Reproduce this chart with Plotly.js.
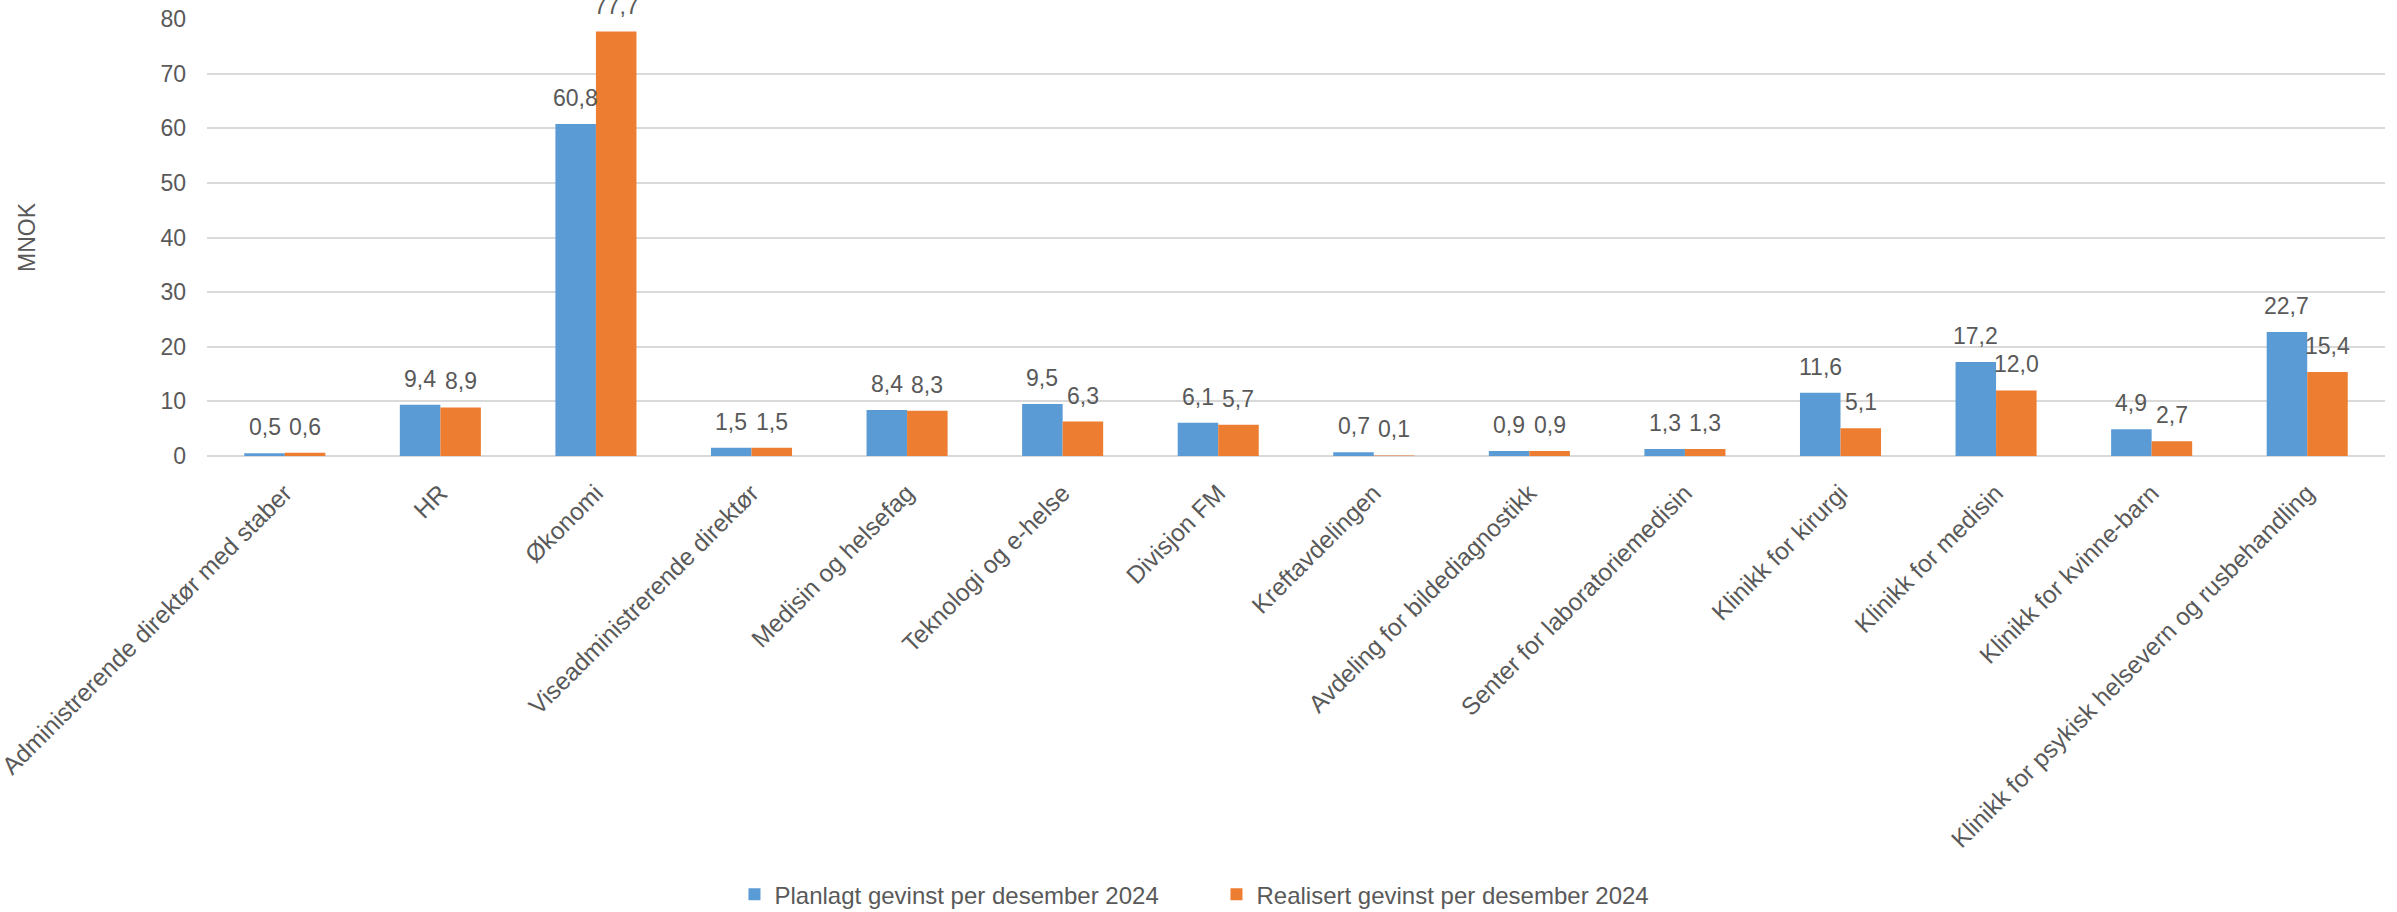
<!DOCTYPE html>
<html>
<head>
<meta charset="utf-8">
<script src="https://cdn.plot.ly/plotly-3.0.1.min.js"></script>
<style>html,body{margin:0;padding:0;background:#fff;}#chart{width:2397px;height:912px;}</style>
</head>
<body>
<div id="chart"></div>
<script>
const categories = [
  "Administrerende direktør med staber",
  "HR",
  "Økonomi",
  "Viseadministrerende direktør",
  "Medisin og helsefag",
  "Teknologi og e-helse",
  "Divisjon FM",
  "Kreftavdelingen",
  "Avdeling for bildediagnostikk",
  "Senter for laboratoriemedisin",
  "Klinikk for kirurgi",
  "Klinikk for medisin",
  "Klinikk for kvinne-barn",
  "Klinikk for psykisk helsevern og rusbehandling"
];
const planlagt = [0.5, 9.4, 60.8, 1.5, 8.4, 9.5, 6.1, 0.7, 0.9, 1.3, 11.6, 17.2, 4.9, 22.7];
const realisert = [0.6, 8.9, 77.7, 1.5, 8.3, 6.3, 5.7, 0.1, 0.9, 1.3, 5.1, 12.0, 2.7, 15.4];
const seriesNames = ["Planlagt gevinst per desember 2024", "Realisert gevinst per desember 2024"];
const yTicks = [0, 10, 20, 30, 40, 50, 60, 70, 80];

const FONT = "'Liberation Sans', Arial, sans-serif";
const W = 2397, H = 912;
const M = {l: 207, r: 12, t: 19, b: 456};
const BARGAP = 0.479;

// pixel offset of each bar's centre inside its group (derived from layout)
const catPx = (W - M.l - M.r) / categories.length;
const barPx = catPx * (1 - BARGAP) / 2;
const fmt = v => v.toFixed(1).replace('.', ',');

const annotations = [];
[planlagt, realisert].forEach((series, si) => {
  series.forEach((v, i) => {
    annotations.push({
      xref: "x", yref: "y", x: categories[i], y: v,
      xshift: (si === 0 ? -1 : 1) * barPx / 2, yshift: 26,
      text: fmt(v), showarrow: false, xanchor: "center", yanchor: "middle",
      font: {family: FONT, size: 23, color: "#595959"}
    });
  });
});

const traces = [
  {type: "bar", name: seriesNames[0], x: categories, y: planlagt, marker: {color: "#5B9BD5"}, hoverinfo: "x+y"},
  {type: "bar", name: seriesNames[1], x: categories, y: realisert, marker: {color: "#ED7D31"}, hoverinfo: "x+y"}
];

const layout = {
  width: W, height: H,
  margin: M,
  paper_bgcolor: "#ffffff", plot_bgcolor: "#ffffff",
  separators: ", ",
  barmode: "group", bargap: BARGAP, bargroupgap: 0,
  font: {family: FONT, color: "#595959", size: 23},
  xaxis: {
    tickangle: -45, tickfont: {family: FONT, size: 24.5, color: "#595959"},
    showgrid: false, showline: false, zeroline: false, ticks: "",
    ticklabelstandoff: 17, automargin: false
  },
  yaxis: {
    range: [0, 80], tickvals: yTicks, ticktext: yTicks.map(String),
    showgrid: true, gridcolor: "#d9d9d9", gridwidth: 2,
    zeroline: true, zerolinecolor: "#d9d9d9", zerolinewidth: 2,
    showline: false, ticks: "", ticklabelstandoff: 20,
    tickfont: {family: FONT, size: 23, color: "#595959"},
    title: {text: "MNOK", font: {family: FONT, size: 23, color: "#595959"}, standoff: 118},
    automargin: false
  },
  annotations: annotations,
  showlegend: true,
  legend: {
    orientation: "h", xref: "container", yref: "container",
    x: 0.5075, xanchor: "center", y: 0.019, yanchor: "middle",
    entrywidth: 437,
    font: {family: FONT, size: 24, color: "#595959"},
    bgcolor: "rgba(0,0,0,0)"
  }
};

Plotly.newPlot("chart", traces, layout, {displayModeBar: false, staticPlot: true});
</script>
</body>
</html>
